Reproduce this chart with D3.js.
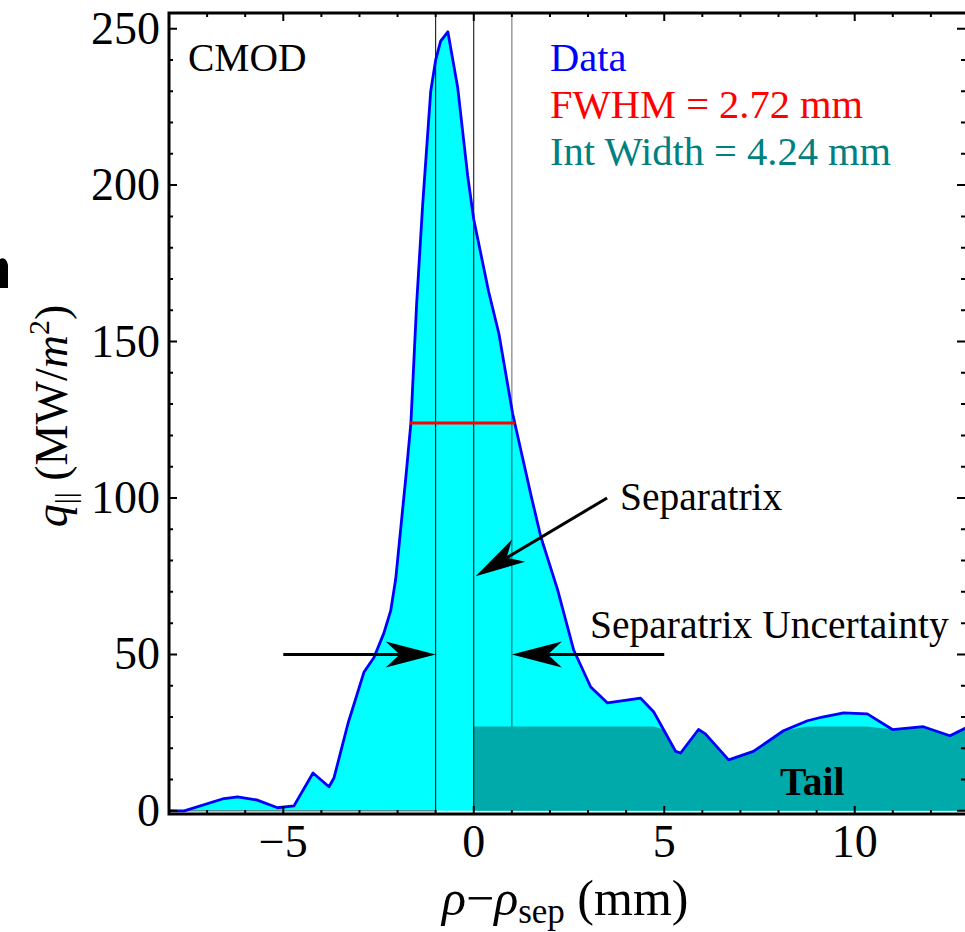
<!DOCTYPE html>
<html>
<head>
<meta charset="utf-8">
<script src="https://cdn.jsdelivr.net/npm/d3@7"></script>
<style>
  body { margin: 0; background: #fff; }
  svg { display: block; }
</style>
</head>
<body>
<script>
// profile data
var rho = [-8, -7.6, -6.6, -6.2, -5.7, -5.15, -4.72, -4.22, -3.8, -3.67, -3.3, -2.88, -2.62, -2.36, -2.18,
    -2.05, -1.78, -1.65, -1.5, -1.34, -1.13, -1.0, -0.87, -0.68, -0.42, -0.16, 0, 0.39, 0.66, 1.02, 1.5,
    1.76, 2.2, 2.62, 3.07, 3.51, 4.38, 4.72, 4.98, 5.3, 5.43, 5.9, 6.08, 6.69, 7.34, 8.13, 8.76, 9.15,
    9.71, 10.33, 10.99, 11.8, 12.5, 13];
var qpar = [0, 0, 3.8, 4.5, 3.5, 1, 1.6, 12.1, 7.7, 10.5, 28, 44.4, 49, 56.8, 64,
    74, 107, 124, 162, 194, 230, 240, 246, 249, 231, 203, 189, 166, 152.5, 127, 101,
    87.6, 70.7, 51.5, 39.6, 34.5, 36, 31.7, 26, 19, 18.5, 26, 24.6, 16.3, 19, 25.6, 28.8, 30,
    31.3, 31, 26, 26.9, 24, 27];

var xTicks = [-5, 0, 5, 10];
var yTicks = [0, 50, 100, 150, 200, 250];
var sepLines = [-1, 0, 1];
var fwhm = [-1.68, 1.08, 124];
var tailLevel = 27;
var legend = ['Data', 'FWHM = 2.72 mm', 'Int Width = 4.24 mm'];
var legendColors = ['#0000ff', '#ff0000', '#008080'];
// arrows: [fromX, fromY, toX, toY]
var arrows = [[-5, 50, -1, 50], [5, 50, 1, 50], [3.5, 100, 0.05, 75]];

var W = 965, H = 932;
var margin = { top: 13, right: -4, bottom: 118, left: 169 };
var serif = '"Liberation Serif", "Times New Roman", serif';

var x = d3.scaleLinear().domain([-8, 13]).range([margin.left, W - margin.right]);
var y = d3.scaleLinear().domain([-1, 255]).range([H - margin.bottom, margin.top]);

var svg = d3.select('body').append('svg')
    .attr('width', W)
    .attr('height', H)
    .style('font-family', serif);

svg.append('clipPath').attr('id', 'plotclip')
    .append('rect')
    .attr('x', x(-8)).attr('y', y(255))
    .attr('width', x(13) - x(-8)).attr('height', y(-1) - y(255));

var plot = svg.append('g').attr('clip-path', 'url(#plotclip)');

var pts = rho.map(function(r, i) { return [r, qpar[i]]; });

// cyan filling under the profile
plot.append('path')
    .datum(pts)
    .attr('fill', '#00ffff')
    .attr('d', d3.area().x(function(d) { return x(d[0]); }).y0(y(0)).y1(function(d) { return y(d[1]); }));

// thin baseline on the left
plot.append('line')
    .attr('x1', x(-8)).attr('x2', x(-1))
    .attr('y1', y(0)).attr('y2', y(0))
    .attr('stroke', '#555').attr('stroke-width', 1);

// +1 mm line, sits behind the tail
plot.append('line')
    .attr('x1', x(sepLines[2])).attr('x2', x(sepLines[2]))
    .attr('y1', y(0)).attr('y2', y(255))
    .attr('stroke', '#000').attr('stroke-opacity', 0.5).attr('stroke-width', 1.2);

// tail region
var tailPts = pts.filter(function(d) { return d[0] >= 0; });
plot.append('path')
    .datum(tailPts)
    .attr('fill', '#00aaaa')
    .attr('d', d3.area().x(function(d) { return x(d[0]); }).y0(y(0))
        .y1(function(d) { return y(Math.min(d[1], tailLevel)); }));

plot.selectAll('.sep')
    .data(sepLines.slice(0, 2))
    .enter().append('line')
    .attr('x1', function(d) { return x(d); }).attr('x2', function(d) { return x(d); })
    .attr('y1', y(0)).attr('y2', y(255))
    .attr('stroke', '#000').attr('stroke-width', 1);

// the data line
plot.append('path')
    .datum(pts)
    .attr('fill', 'none')
    .attr('stroke', '#0000ff')
    .attr('stroke-width', 2.8)
    .attr('stroke-linejoin', 'round')
    .attr('d', d3.line().x(function(d) { return x(d[0]); }).y(function(d) { return y(d[1]); }));

// FWHM bar
plot.append('line')
    .attr('x1', x(fwhm[0])).attr('x2', x(fwhm[1]))
    .attr('y1', y(fwhm[2])).attr('y2', y(fwhm[2]))
    .attr('stroke', '#ff0000').attr('stroke-width', 3);

// arrows
arrows.forEach(function(a) {
    var x0 = x(a[0]), y0 = y(a[1]), x1 = x(a[2]), y1 = y(a[3]);
    var ang = Math.atan2(y1 - y0, x1 - x0);
    var L = 50, hw = 13, notch = 36;
    function p(along, side) {
        return [x1 - along * Math.cos(ang) - side * Math.sin(ang),
                y1 - along * Math.sin(ang) + side * Math.cos(ang)];
    }
    var back = p(notch, 0);
    plot.append('line')
        .attr('x1', x0).attr('y1', y0).attr('x2', back[0]).attr('y2', back[1])
        .attr('stroke', '#000').attr('stroke-width', 3);
    plot.append('path')
        .attr('fill', '#000')
        .attr('d', 'M' + [p(0, 0), p(L, hw), back, p(L, -hw)].map(function(q) { return q.join(','); }).join('L') + 'Z');
});

// annotations
var ann = svg.append('g').attr('font-size', '39.5px').attr('fill', '#000');
ann.append('text').attr('x', 188).attr('y', 71).text('CMOD');
ann.append('text').attr('x', 620).attr('y', 510).text('Separatrix');
ann.append('text').attr('x', 590).attr('y', 638).text('Separatrix Uncertainty');
ann.append('text').attr('x', 780).attr('y', 795).attr('font-weight', 'bold').text('Tail');

svg.append('g').attr('font-size', '40.5px')
    .selectAll('text')
    .data(legend)
    .enter().append('text')
    .attr('x', 550)
    .attr('y', function(d, i) { return 71 + i * 47; })
    .attr('fill', function(d, i) { return legendColors[i]; })
    .text(function(d) { return d; });

// frame with ticks on all sides
var frame = svg.append('g');
frame.append('rect')
    .attr('x', x(-8)).attr('y', y(255))
    .attr('width', x(13) - x(-8)).attr('height', y(-1) - y(255))
    .attr('fill', 'none').attr('stroke', '#000').attr('stroke-width', 3);

var xMinor = d3.range(-8, 14, 1);
frame.selectAll('.xt')
    .data(xMinor)
    .enter().append('path')
    .attr('stroke', '#000').attr('stroke-width', 2)
    .attr('d', function(d) {
        var len = d % 5 === 0 ? 8 : 4;
        return 'M' + x(d) + ',' + y(-1) + 'v' + (-len) + 'M' + x(d) + ',' + y(255) + 'v' + len;
    });

var yMinor = d3.range(0, 260, 10);
frame.selectAll('.yt')
    .data(yMinor)
    .enter().append('path')
    .attr('stroke', '#000').attr('stroke-width', 2)
    .attr('d', function(d) {
        var len = d % 50 === 0 ? 8 : 4;
        return 'M' + x(-8) + ',' + y(d) + 'h' + len + 'M' + (x(13) - 4) + ',' + y(d) + 'h' + (-len);
    });

var tickFont = svg.append('g').attr('font-size', '46px').attr('fill', '#000');
tickFont.selectAll('.yl')
    .data(yTicks)
    .enter().append('text')
    .attr('x', 160)
    .attr('y', function(d) { return y(d) + 15; })
    .attr('text-anchor', 'end')
    .text(function(d) { return d; });

tickFont.selectAll('.xl')
    .data(xTicks)
    .enter().append('text')
    .attr('x', function(d) { return x(d); })
    .attr('y', 857)
    .attr('text-anchor', 'middle')
    .text(function(d) { return d < 0 ? '\u2212' + Math.abs(d) : d; });

// axis labels
var xl = svg.append('text').attr('x', 442).attr('y', 915).attr('font-size', '50px');
xl.append('tspan').attr('font-style', 'italic').text('\u03c1');
xl.append('tspan').text('\u2212');
xl.append('tspan').attr('font-style', 'italic').text('\u03c1');
xl.append('tspan').attr('font-size', '35px').attr('dy', 8).text('sep');
xl.append('tspan').attr('dy', -8).text(' (mm)');

var yl = svg.append('text')
    .attr('transform', 'translate(67,416) rotate(-90)')
    .attr('text-anchor', 'middle')
    .attr('font-size', '46px');
yl.append('tspan').attr('font-style', 'italic').text('q');
yl.append('tspan').attr('font-size', '30px').attr('dy', 8).text('||');
yl.append('tspan').attr('dy', -8).text(' (MW/');
yl.append('tspan').attr('font-style', 'italic').text('m');
yl.append('tspan').attr('font-size', '30px').attr('dy', -18).text('2');
yl.append('tspan').attr('dy', 18).text(')');

// clipped fragment at the left edge
svg.append('path')
    .attr('fill', '#000')
    .attr('d', 'M0,259 Q6,256 8,265 L8,288 L0,288 Z');
</script>
</body>
</html>
